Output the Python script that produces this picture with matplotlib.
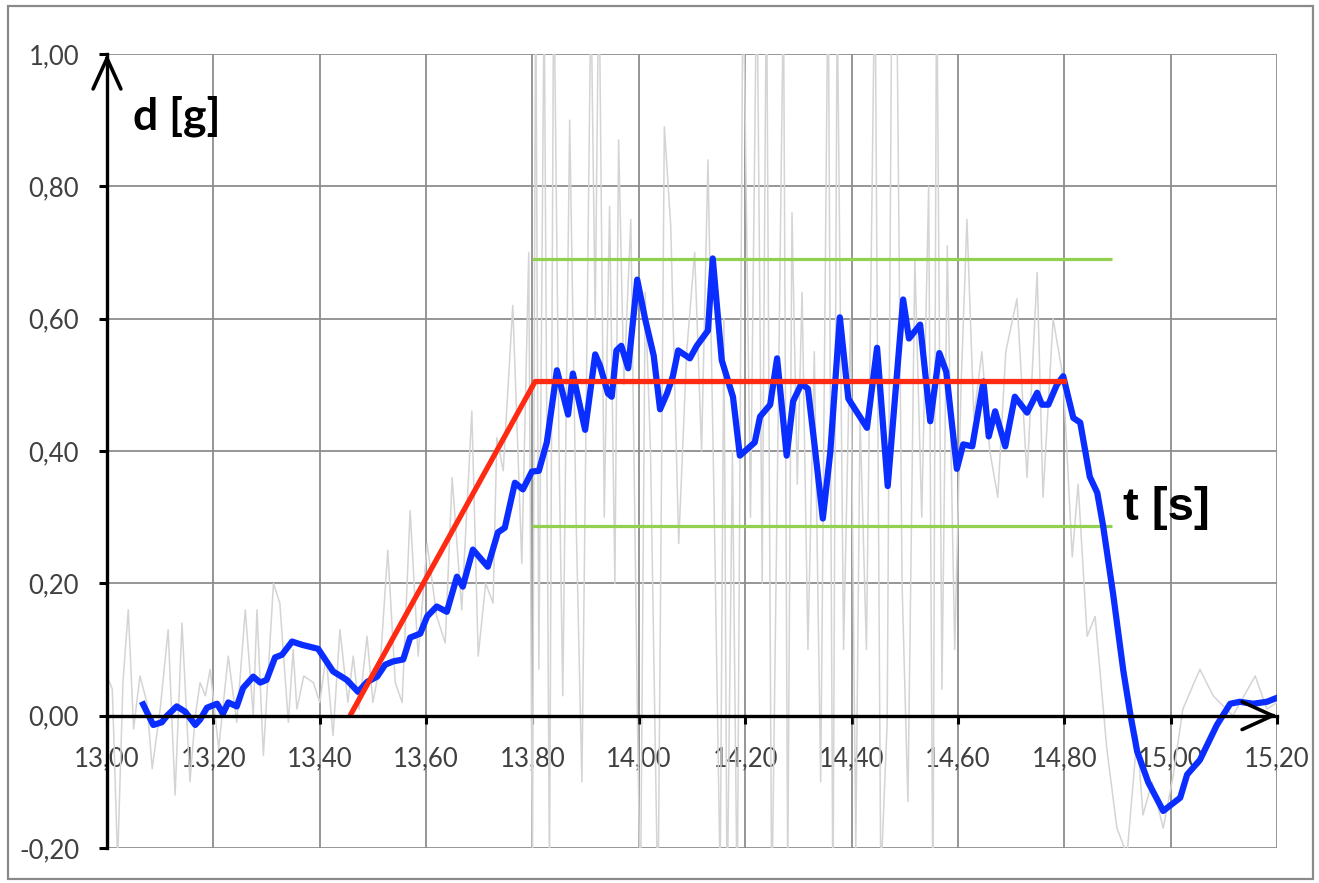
import matplotlib
matplotlib.use("Agg")
import matplotlib.pyplot as plt
from matplotlib.patches import Rectangle
from matplotlib.ticker import FuncFormatter, MultipleLocator

# smoothed acceleration d(t)
blue_t = [13.068, 13.087, 13.103, 13.113, 13.131, 13.147, 13.166, 13.175, 13.188, 13.207,
          13.218, 13.228, 13.244, 13.256, 13.275, 13.288, 13.300, 13.316, 13.329, 13.348,
          13.367, 13.397, 13.425, 13.451, 13.472, 13.489, 13.508, 13.523, 13.538, 13.557,
          13.570, 13.589, 13.602, 13.620, 13.639, 13.658, 13.669, 13.688, 13.716, 13.735,
          13.748, 13.767, 13.782, 13.799, 13.812, 13.827, 13.846, 13.867, 13.876, 13.899,
          13.918, 13.927, 13.942, 13.949, 13.958, 13.967, 13.980, 13.997, 14.012, 14.028,
          14.040, 14.053, 14.064, 14.074, 14.096, 14.109, 14.130, 14.139, 14.156, 14.177,
          14.190, 14.218, 14.228, 14.247, 14.260, 14.278, 14.290, 14.306, 14.318, 14.331,
          14.346, 14.360, 14.378, 14.394, 14.429, 14.448, 14.468, 14.497, 14.508, 14.529,
          14.548, 14.565, 14.578, 14.598, 14.610, 14.627, 14.648, 14.658, 14.670, 14.689,
          14.707, 14.730, 14.749, 14.758, 14.770, 14.786, 14.798, 14.817, 14.830, 14.848,
          14.862, 14.873, 14.892, 14.911, 14.924, 14.937, 14.958, 14.986, 15.018, 15.031,
          15.055, 15.087, 15.112, 15.130, 15.155, 15.181, 15.200]
blue_d = [0.017, -0.014, -0.010, 0.000, 0.014, 0.006, -0.014, -0.006, 0.012, 0.018,
          0.003, 0.020, 0.014, 0.042, 0.059, 0.050, 0.054, 0.088, 0.092, 0.112,
          0.107, 0.101, 0.067, 0.054, 0.036, 0.051, 0.059, 0.077, 0.082, 0.085,
          0.118, 0.124, 0.150, 0.165, 0.157, 0.210, 0.195, 0.251, 0.225, 0.277,
          0.284, 0.352, 0.342, 0.369, 0.370, 0.413, 0.522, 0.455, 0.517, 0.432,
          0.546, 0.529, 0.487, 0.482, 0.552, 0.559, 0.525, 0.659, 0.599, 0.544,
          0.463, 0.487, 0.513, 0.552, 0.540, 0.559, 0.582, 0.691, 0.537, 0.482,
          0.393, 0.413, 0.452, 0.470, 0.540, 0.393, 0.475, 0.502, 0.494, 0.405,
          0.298, 0.398, 0.602, 0.479, 0.435, 0.556, 0.347, 0.629, 0.570, 0.591,
          0.445, 0.548, 0.520, 0.373, 0.410, 0.407, 0.505, 0.422, 0.460, 0.407,
          0.482, 0.458, 0.488, 0.470, 0.470, 0.500, 0.513, 0.450, 0.443, 0.361,
          0.337, 0.287, 0.183, 0.068, 0.003, -0.054, -0.101, -0.144, -0.124, -0.089,
          -0.067, -0.014, 0.018, 0.021, 0.018, 0.021, 0.027]

# raw sensor signal
raw_t = [13.000, 13.010, 13.020, 13.030, 13.040, 13.050, 13.062, 13.075, 13.085, 13.100,
         13.115, 13.128, 13.141, 13.156, 13.166, 13.175, 13.185, 13.194, 13.210, 13.228,
         13.244, 13.260, 13.275, 13.282, 13.294, 13.313, 13.325, 13.341, 13.350, 13.357,
         13.370, 13.388, 13.400, 13.412, 13.425, 13.438, 13.453, 13.463, 13.474, 13.489,
         13.500, 13.514, 13.528, 13.542, 13.555, 13.570, 13.585, 13.602, 13.620, 13.636,
         13.649, 13.667, 13.686, 13.698, 13.712, 13.726, 13.733, 13.745, 13.763, 13.780,
         13.793, 13.800, 13.806, 13.812, 13.822, 13.832, 13.840, 13.850, 13.857, 13.870,
         13.882, 13.893, 13.900, 13.910, 13.918, 13.925, 13.935, 13.945, 13.955, 13.962,
         13.972, 13.985, 13.997, 14.003, 14.012, 14.022, 14.036, 14.048, 14.060, 14.075,
         14.090, 14.105, 14.118, 14.130, 14.142, 14.153, 14.160, 14.166, 14.176, 14.185,
         14.196, 14.210, 14.222, 14.232, 14.240, 14.250, 14.262, 14.272, 14.280, 14.288,
         14.298, 14.307, 14.318, 14.330, 14.342, 14.356, 14.365, 14.373, 14.385, 14.398,
         14.408, 14.416, 14.428, 14.444, 14.455, 14.467, 14.476, 14.485, 14.495, 14.506,
         14.519, 14.532, 14.545, 14.553, 14.560, 14.570, 14.580, 14.594, 14.606, 14.617,
         14.630, 14.645, 14.660, 14.675, 14.690, 14.711, 14.730, 14.749, 14.760, 14.779,
         14.798, 14.815, 14.826, 14.843, 14.858, 14.880, 14.899, 14.918, 14.937, 14.948,
         14.965, 14.986, 15.005, 15.023, 15.055, 15.080, 15.117, 15.159, 15.181, 15.200]
raw_d = [0.06, 0.04, -0.22, 0.05, 0.16, -0.02, 0.06, 0.02, -0.08, 0.01,
         0.13, -0.12, 0.14, -0.10, 0.00, 0.05, 0.03, 0.07, -0.05, 0.09,
         -0.01, 0.16, 0.00, 0.16, -0.06, 0.20, 0.17, -0.01, 0.10, 0.01,
         0.06, 0.05, 0.02, 0.09, -0.03, 0.13, 0.02, 0.09, 0.01, 0.12,
         0.02, 0.08, 0.25, 0.05, 0.02, 0.31, 0.09, 0.26, 0.15, 0.11,
         0.36, 0.16, 0.46, 0.09, 0.20, 0.17, 0.42, 0.37, 0.62, 0.23,
         0.70, -0.25, 1.15, 0.07, 1.10, -0.25, 1.15, 0.40, 0.03, 0.90,
         0.30, -0.10, 0.40, 1.10, 0.60, 1.15, 0.30, 0.77, 0.20, 0.87,
         0.50, 0.75, 0.02, -0.30, 0.64, 0.40, -0.30, 0.89, 0.74, 0.26,
         0.55, 0.70, 0.40, 0.84, 0.30, -0.25, 0.60, -0.30, 0.40, -0.30,
         1.15, 0.30, 1.15, 0.20, 1.15, -0.30, 0.45, 1.10, -0.25, 0.76,
         0.35, 0.64, 0.10, 0.55, -0.10, 1.15, -0.30, 1.10, 0.10, 0.60,
         -0.20, 0.45, 0.10, 1.15, -0.25, -0.01, 1.15, 1.10, 0.20, -0.13,
         0.69, 0.30, 0.80, -0.30, 1.15, 0.04, 0.71, 0.10, 0.50, 0.75,
         0.45, 0.55, 0.40, 0.33, 0.55, 0.63, 0.36, 0.67, 0.33, 0.60,
         0.51, 0.24, 0.35, 0.12, 0.15, -0.05, -0.17, -0.21, -0.03, -0.15,
         -0.10, -0.17, -0.09, 0.01, 0.07, 0.03, 0.00, 0.06, 0.01, 0.02]

# idealised trapezoid and tolerance band
trap_t = [13.457, 13.805, 14.805]
trap_d = [0.0, 0.505, 0.505]
band_t = [13.80, 14.89]
band_hi = 0.69
band_lo = 0.286

fig = plt.figure(figsize=(13.19, 8.83), dpi=100)
ax = fig.add_axes([107 / 1319, 1 - 848 / 883, 1170 / 1319, 794 / 883])

ax.plot(raw_t, raw_d, color='#d4d4d4', lw=1.1, zorder=2)
ax.plot(band_t, [band_hi, band_hi], color='#92d050', lw=2.3, zorder=3, solid_capstyle='butt')
ax.plot(band_t, [band_lo, band_lo], color='#92d050', lw=2.3, zorder=3, solid_capstyle='butt')
ax.plot(blue_t, blue_d, color='#0a2eff', lw=4.5, zorder=4, solid_joinstyle='round')
ax.plot(trap_t, trap_d, color='#ff2a12', lw=3.8, zorder=5, solid_capstyle='butt')

ax.set_xlim(13.0, 15.2)
ax.set_ylim(-0.2, 1.0)
ax.xaxis.set_major_locator(MultipleLocator(0.2))
ax.yaxis.set_major_locator(MultipleLocator(0.2))
comma = FuncFormatter(lambda v, p: f"{v:.2f}".replace('.', ','))
ax.xaxis.set_major_formatter(comma)
ax.yaxis.set_major_formatter(comma)
ax.grid(True, color='#8e8e8e', lw=1.3, zorder=1)
ax.set_axisbelow(True)

for s in ['top', 'right']:
    ax.spines[s].set_visible(False)
ax.spines['bottom'].set_position(('data', 0))
ax.spines['left'].set_position(('data', 13.0))
for s in ['bottom', 'left']:
    ax.spines[s].set_linewidth(2.4)
    ax.spines[s].set_color('black')
    ax.spines[s].set_zorder(6)

ax.tick_params(axis='both', direction='out', length=6, width=2.2, color='black',
               labelsize=18.5, labelcolor='#404040')
ax.tick_params(axis='x', pad=16)
ax.tick_params(axis='y', pad=14)
for lab in ax.get_xticklabels() + ax.get_yticklabels():
    lab.set_family('Lato')

# arrow heads on both axes (shaft kept inside the spine)
arrow = dict(arrowstyle='->, head_length=1.1, head_width=0.5', lw=2.6, color='black',
             mutation_scale=20, shrinkA=0, shrinkB=0)
ax.annotate('', xy=(15.2, 0), xytext=(15.19, 0), arrowprops=arrow, zorder=7,
            annotation_clip=False)
ax.annotate('', xy=(13.0, 1.0), xytext=(13.0, 0.99), arrowprops=arrow, zorder=7,
            annotation_clip=False)

ax.text(13.049, 0.886, 'd [g]', family='Lato', fontweight='bold', fontsize=32,
        ha='left', va='baseline', zorder=8)
ax.text(14.911, 0.296, 't [s]', family='Liberation Sans', fontweight='bold', fontsize=34,
        ha='left', va='baseline', zorder=8)

fig.patches.append(Rectangle((8 / 1319, 4 / 883), 1305 / 1319, 873 / 883,
                             transform=fig.transFigure, fill=False,
                             edgecolor='#8a8a8a', lw=1.6))

fig.savefig('out.png', dpi=100)
